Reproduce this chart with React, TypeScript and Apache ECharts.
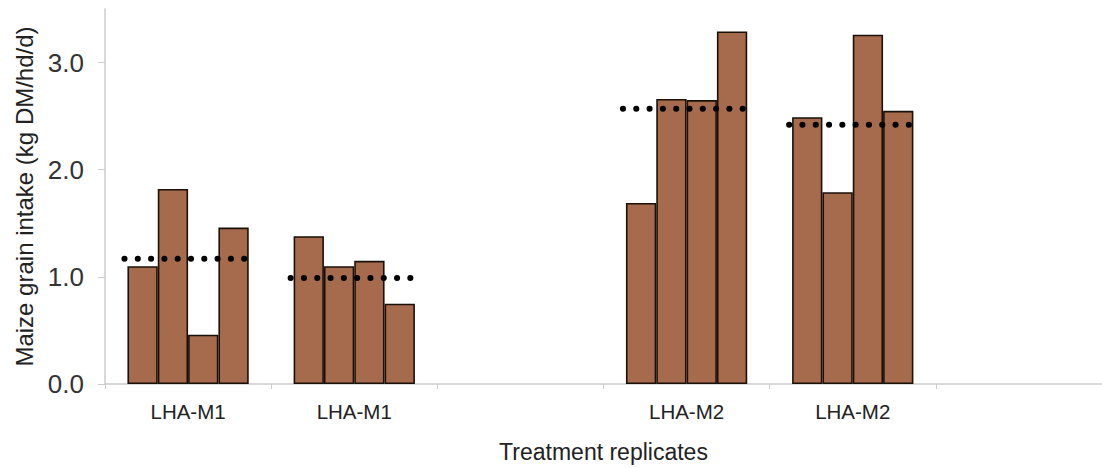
import React, { useEffect, useRef } from "react";
import * as echarts from "echarts";

const categories = ["LHA-M1", "LHA-M1", "", "LHA-M2", "LHA-M2", ""];
const rep1 = [1.10, 1.38, null, 1.69, 2.49, null];
const rep2 = [1.82, 1.10, null, 2.66, 1.79, null];
const rep3 = [0.46, 1.15, null, 2.65, 3.26, null];
const rep4 = [1.46, 0.75, null, 3.29, 2.55, null];
const groupMeans = [1.17, 0.99, null, 2.57, 2.42, null];
const yTicks = [0, 1, 2, 3];

const FONT = "'Liberation Sans', Arial, sans-serif";
const BAR_GAP = 0.27;

export default function App() {
  const ref = useRef<HTMLDivElement>(null);
  useEffect(() => {
    if (!ref.current) return;
    const chart = echarts.init(ref.current, undefined, { renderer: "svg" });
    const barStyle = {
      color: "#A66A4D",
      borderColor: "#1a1008",
      borderWidth: 1.6,
    };
    const mkBar = (name: string, data: (number | null)[]) => ({
      type: "bar",
      name,
      data,
      barGap: "0%",
      barCategoryGap: BAR_GAP * 100 + "%",
      itemStyle: barStyle,
      z: 2,
    });
    const meanData = groupMeans
      .map((m, i) => (m == null ? null : [i, m]))
      .filter((d) => d != null);
    chart.setOption({
      animation: false,
      backgroundColor: "#ffffff",
      grid: { left: 105, right: -2, top: 9, bottom: 84, containLabel: false },
      xAxis: {
        type: "category",
        data: categories,
        boundaryGap: true,
        name: "Treatment replicates",
        nameLocation: "middle",
        nameGap: 56,
        nameTextStyle: { fontFamily: FONT, fontSize: 23, color: "#222" },
        axisLine: { lineStyle: { color: "#cccccc", width: 1.5 } },
        axisTick: { show: true, length: 5, lineStyle: { color: "#cccccc" } },
        axisLabel: {
          fontFamily: FONT,
          fontSize: 20.5,
          color: "#222",
          margin: 17,
          interval: 0,
        },
      },
      yAxis: {
        type: "value",
        min: 0,
        max: 3.5,
        interval: 1,
        name: "Maize grain intake (kg DM/hd/d)",
        nameLocation: "middle",
        nameGap: 64,
        nameTextStyle: { fontFamily: FONT, fontSize: 24, color: "#222" },
        splitLine: { show: false },
        axisLine: { show: true, lineStyle: { color: "#cccccc", width: 1.5 } },
        axisTick: {
          show: true,
          length: 7,
          lineStyle: { color: "#cccccc" },
          customValues: yTicks,
        },
        axisLabel: {
          fontFamily: FONT,
          fontSize: 26,
          color: "#333",
          margin: 21,
          customValues: yTicks,
          formatter: (v: number) => v.toFixed(1),
        },
      },
      series: [
        mkBar("Replicate 1", rep1),
        mkBar("Replicate 2", rep2),
        mkBar("Replicate 3", rep3),
        mkBar("Replicate 4", rep4),
        {
          type: "custom",
          name: "Mean",
          data: meanData,
          z: 5,
          renderItem: (params: any, api: any) => {
            const c = api.coord([api.value(0), api.value(1)]);
            const band = api.size([1, 0])[0];
            const half = (band * (1 - BAR_GAP)) / 2;
            return {
              type: "line",
              shape: { x1: c[0] - half - 3, y1: c[1], x2: c[0] + half - 1, y2: c[1] },
              style: {
                stroke: "#000",
                lineWidth: 6,
                lineCap: "round",
                lineDash: [0.1, 13.2],
              },
            };
          },
        },
      ],
    });
    return () => chart.dispose();
  }, []);
  return <div ref={ref} style={{ width: 1102, height: 468, position: "absolute", left: 0, top: 0 }} />;
}
